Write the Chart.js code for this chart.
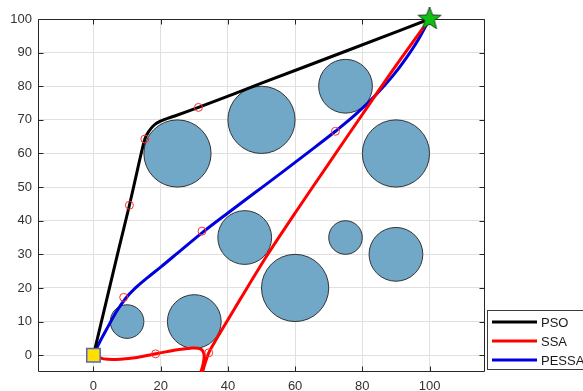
<!DOCTYPE html>
<html>
<head>
<meta charset="utf-8">
<script src="https://cdn.jsdelivr.net/npm/chart.js@4/dist/chart.umd.min.js"></script>
<style>
  html, body { margin: 0; padding: 0; background: #fff; overflow: hidden; }
  #wrap { width: 583px; height: 391px; }
</style>
</head>
<body>
<div id="wrap"><canvas id="c" width="583" height="391"></canvas></div>
<script>
// Axis ticks
const xTicks = [0, 20, 40, 60, 80, 100];
const yTicks = [0, 10, 20, 30, 40, 50, 60, 70, 80, 90, 100];

// Circular obstacles: centre and radius (map units)
const obstacleX = [10, 30, 25, 50, 75, 90, 45, 60, 75, 90];
const obstacleY = [10, 10, 60, 70, 80, 60, 35, 20, 35, 30];
const obstacleR = [5, 8, 10, 10, 8, 10, 8, 10, 5, 8];

// Planned paths
const psoX = [0, 2.5, 5, 7.5, 10.7, 12.5, 14.2, 15.3, 16.5, 18, 20.1, 22.5, 24.6, 28, 31.25, 50, 75, 100];
const psoY = [0, 10.5, 21, 31.5, 44.6, 52.5, 60, 64.3, 66.6, 68.4, 69.7, 70.6, 71.3, 72.5, 73.7, 80.9, 90.4, 100];

const ssaX = [0, 3, 8, 13, 18.5, 24, 29, 31.8, 32.9, 32.6, 31.6, 31.2, 31.9, 33.1, 34.3, 36, 38, 44, 51.4, 60, 70, 80, 90, 100];
const ssaY = [0, -1.1, -1.2, -0.7, 0.4, 1.5, 2.1, 1.9, 0.3, -2.8, -6.2, -8.5, -6.8, -2.8, 0.7, 3.8, 7.2, 17.2, 29.3, 42.3, 57, 71.6, 86.1, 100];

const pessaX = [0, 2, 4.5, 7, 9.5, 12.5, 16, 20, 26, 32.3, 40, 48, 56, 64, 72, 78, 84, 89, 93, 96.5, 100];
const pessaY = [0, 4.2, 8.8, 13.2, 16.8, 20, 23, 26.2, 31.2, 36.4, 42.3, 48.3, 54.3, 60.4, 66.6, 71.6, 77.4, 83, 88.3, 93.6, 100];

// Intermediate waypoints
const waypointX = [10.7, 15.3, 31.25, 18.5, 34.3, 9, 32.3, 72];
const waypointY = [44.6, 64.3, 73.7, 0.4, 0.7, 17.2, 36.9, 66.6];

const startPoint = { x: 0, y: 0 };
const goalPoint = { x: 100, y: 100 };

const seriesNames = ['PSO', 'SSA', 'PESSA'];
const seriesColors = ['#000000', '#ff0000', '#0000dd'];

const FONT = '"Liberation Sans", Arial, Helvetica, sans-serif';

const zip = (xs, ys) => xs.map((x, i) => ({ x: x, y: ys[i] }));

// Filled five-pointed star used for the goal marker
function starImage(rOuter, rInner, fill, stroke) {
  const s = Math.ceil(rOuter * 2 + 4);
  const c = document.createElement('canvas');
  c.width = s; c.height = s;
  const g = c.getContext('2d');
  g.beginPath();
  for (let i = 0; i < 10; i++) {
    const r = i % 2 ? rInner : rOuter;
    const a = -Math.PI / 2 + i * Math.PI / 5;
    g.lineTo(s / 2 + r * Math.cos(a), s / 2 + r * Math.sin(a));
  }
  g.closePath();
  g.fillStyle = fill; g.fill();
  g.strokeStyle = stroke; g.lineWidth = 1; g.stroke();
  return c;
}

// Axes box with inward tick marks on all four sides
const axesBox = {
  id: 'axesBox',
  beforeDatasetsDraw(chart) {
    const { ctx, chartArea: a, scales } = chart;
    const L = Math.round(a.left) + 0.5, R = Math.round(a.right) - 0.5;
    const T = Math.round(a.top) + 0.5, B = Math.round(a.bottom) - 0.5;
    ctx.save();
    ctx.strokeStyle = '#262626';
    ctx.lineWidth = 1;
    ctx.beginPath();
    ctx.rect(L, T, R - L, B - T);
    const len = 5;
    xTicks.forEach(v => {
      const px = Math.round(scales.x.getPixelForValue(v)) + 0.5;
      ctx.moveTo(px, B); ctx.lineTo(px, B - len);
      ctx.moveTo(px, T); ctx.lineTo(px, T + len);
    });
    yTicks.forEach(v => {
      const py = Math.round(scales.y.getPixelForValue(v)) + 0.5;
      ctx.moveTo(L, py); ctx.lineTo(L + len, py);
      ctx.moveTo(R, py); ctx.lineTo(R - len, py);
    });
    ctx.stroke();
    ctx.restore();
  }
};

// Boxed legend for the three path series
const pathLegend = {
  id: 'pathLegend',
  afterDraw(chart) {
    const { ctx } = chart;
    const bx = 487, by = 310, bw = 120, bh = 60;
    ctx.save();
    ctx.fillStyle = '#ffffff';
    ctx.fillRect(bx, by, bw, bh);
    ctx.strokeStyle = '#3c3c3c';
    ctx.lineWidth = 1;
    ctx.strokeRect(bx + 0.5, by + 0.5, bw, bh - 1);
    ctx.font = '13px ' + FONT;
    ctx.textBaseline = 'middle';
    ctx.textAlign = 'left';
    seriesNames.forEach((name, i) => {
      const yy = by + 12 + i * 19;
      ctx.strokeStyle = seriesColors[i];
      ctx.lineWidth = 3;
      ctx.beginPath();
      ctx.moveTo(492, yy); ctx.lineTo(537, yy);
      ctx.stroke();
      ctx.fillStyle = '#1a1a1a';
      ctx.fillText(name, 541, yy + 1);
    });
    ctx.restore();
  }
};

const pxPerUnit = (chart, r) => {
  const s = chart.scales.x;
  return Math.abs(s.getPixelForValue(r) - s.getPixelForValue(0));
};

new Chart(document.getElementById('c'), {
  type: 'scatter',
  data: {
    datasets: [
      {
        label: 'obstacles',
        data: zip(obstacleX, obstacleY),
        pointRadius: ctx => pxPerUnit(ctx.chart, obstacleR[ctx.dataIndex]),
        pointBackgroundColor: 'rgb(113,167,199)',
        pointBorderColor: '#333333',
        pointBorderWidth: 1,
        showLine: false,
        order: 10
      },
      {
        label: seriesNames[2],
        data: zip(pessaX, pessaY),
        showLine: true,
        borderColor: seriesColors[2],
        borderWidth: 3,
        pointRadius: 0,
        cubicInterpolationMode: 'monotone',
        order: 5
      },
      {
        label: seriesNames[1],
        data: zip(ssaX, ssaY),
        showLine: true,
        borderColor: seriesColors[1],
        borderWidth: 3,
        pointRadius: 0,
        tension: 0.3,
        order: 4
      },
      {
        label: seriesNames[0],
        data: zip(psoX, psoY),
        showLine: true,
        borderColor: seriesColors[0],
        borderWidth: 3,
        pointRadius: 0,
        cubicInterpolationMode: 'monotone',
        order: 3
      },
      {
        label: 'waypoints',
        data: zip(waypointX, waypointY),
        showLine: false,
        pointRadius: 4,
        pointBackgroundColor: 'rgba(0,0,0,0)',
        pointBorderColor: '#ff3030',
        pointBorderWidth: 1,
        order: 2
      },
      {
        label: 'start',
        data: [startPoint],
        showLine: false,
        pointStyle: 'rect',
        pointRadius: 9.5,
        pointBackgroundColor: '#ffdf00',
        pointBorderColor: '#5566bb',
        pointBorderWidth: 1.5,
        clip: false,
        order: 1
      },
      {
        label: 'goal',
        data: [goalPoint],
        showLine: false,
        pointStyle: starImage(12, 5, '#10c010', '#1f3f1f'),
        pointRadius: 12,
        clip: false,
        order: 0
      }
    ]
  },
  options: {
    responsive: false,
    animation: false,
    devicePixelRatio: 1,
    events: [],
    layout: { padding: { left: 0, top: 19, right: 98, bottom: 0 } },
    plugins: { legend: { display: false }, tooltip: { enabled: false } },
    scales: {
      x: {
        type: 'linear',
        min: -16.5,
        max: 116.5,
        afterBuildTicks: s => { s.ticks = xTicks.map(v => ({ value: v })); },
        afterFit: s => { s.height = 19; },
        border: { display: false },
        grid: { color: '#e0e0e0', lineWidth: 1, drawTicks: false },
        ticks: { font: { family: FONT, size: 13 }, color: '#333333', padding: 7, maxRotation: 0 }
      },
      y: {
        type: 'linear',
        min: -5,
        max: 100,
        afterBuildTicks: s => { s.ticks = yTicks.map(v => ({ value: v })); },
        afterFit: s => { s.width = 38; },
        border: { display: false },
        grid: { color: '#e0e0e0', lineWidth: 1, drawTicks: false },
        ticks: { font: { family: FONT, size: 13 }, color: '#333333', padding: 6 }
      }
    }
  },
  plugins: [axesBox, pathLegend]
});
</script>
</body>
</html>
